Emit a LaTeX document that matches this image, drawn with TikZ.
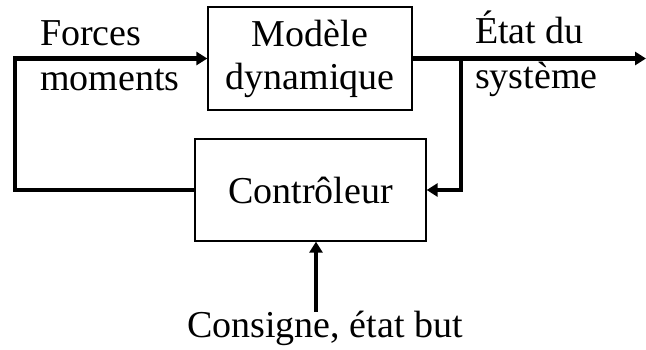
\documentclass[tikz,border=0pt]{standalone}
\usepackage{fontspec}
\setmainfont{Liberation Serif}
\usetikzlibrary{arrows.meta}
\tikzset{
  block/.style={draw=black, line width=1.3pt, inner sep=0pt, align=center},
  flow/.style={line width=4.2pt, line join=miter, -{Triangle[length=11pt,width=13pt]}},
  lbl/.style={anchor=base west, inner sep=0pt, align=left}
}
\begin{document}
\begin{tikzpicture}[x=1pt,y=-1pt,font=\fontsize{38}{43}\selectfont]
\useasboundingbox (0,0) rectangle (646,349);
\node[block, minimum width=204pt, minimum height=103pt] (model) at (310,58.5) {Modèle\\dynamique};
\node[block, minimum width=231pt, minimum height=102pt] (ctrl) at (310.5,190) {Contrôleur};
\node[lbl] (forces) at (40,45) {Forces};
\node[lbl] (moments) at (40,90) {moments};
\node[lbl] (etat) at (475,43) {État du};
\node[lbl] (systeme) at (475,88) {système};
\node[anchor=base, inner sep=0pt] (cons) at (325,337) {Consigne, état but};
\coordinate (lc) at (15,0);
\coordinate (br) at (461,0);
\coordinate (out) at (646,0);
\coordinate (cs) at (316,312);
\draw[flow] (ctrl.west) -- (ctrl.west -| lc) |- (model.west);
\draw[flow] (model.east) -- (model.east -| out);
\draw[flow] (model.east -| br) |- (ctrl.east);
\draw[flow] (cs) -- (cs |- ctrl.south);
\end{tikzpicture}
\end{document}
